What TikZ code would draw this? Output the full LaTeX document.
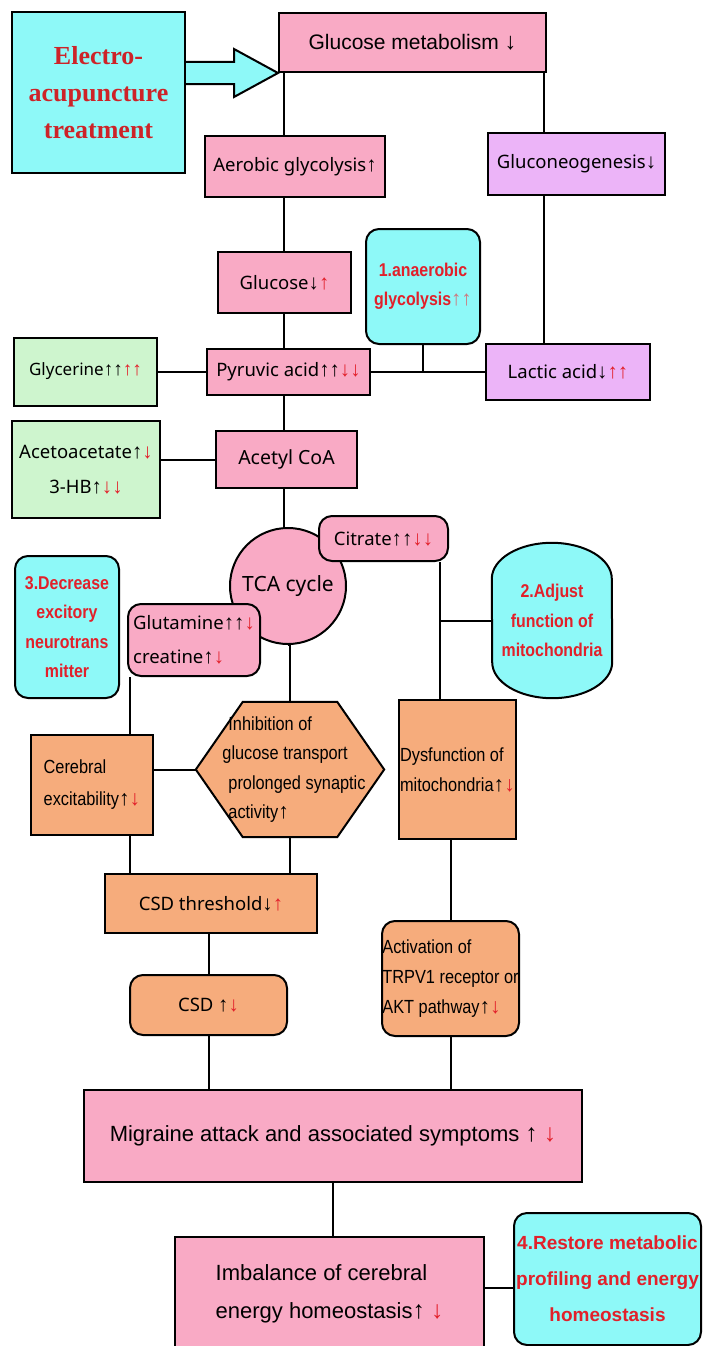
\documentclass[tikz,border=0pt]{standalone}
\usepackage{fontspec}
\setmainfont{Liberation Sans}
\newfontfamily\yhfont{Noto Sans}
\newfontfamily\narrowfont[FakeStretch=0.86]{Liberation Sans}
\newfontfamily\seriffont{Liberation Serif}
\newfontfamily\arrowfont[Scale=1.12]{Liberation Sans}
\usepackage{tikz}
\usetikzlibrary{calc,backgrounds}
\definecolor{boxcyan}{RGB}{142,249,248}
\definecolor{boxpink}{RGB}{249,170,197}
\definecolor{boxviolet}{RGB}{236,180,248}
\definecolor{boxgreen}{RGB}{206,245,206}
\definecolor{boxorange}{RGB}{246,172,124}
\definecolor{txtred}{RGB}{226,32,42}
\definecolor{elecred}{RGB}{205,35,40}
\definecolor{fadered}{RGB}{205,120,125}

% small arrows used in the labels
\newcommand{\ua}{{\arrowfont ↑}}
\newcommand{\da}{{\arrowfont ↓}}
\newcommand{\rua}{{\color{txtred}\arrowfont ↑}}
\newcommand{\rda}{{\color{txtred}\arrowfont ↓}}
\newcommand{\fua}{{\color{fadered}\arrowfont ↑}}

\begin{document}
\begin{tikzpicture}[x=1pt,y=-1pt,
    base/.style={draw=black, line width=2pt, inner sep=0pt, text=black},
    pinkbox/.style={base, fill=boxpink},
    violetbox/.style={base, fill=boxviolet},
    greenbox/.style={base, fill=boxgreen},
    orangebox/.style={base, fill=boxorange},
    cyanbox/.style={base, fill=boxcyan, rounded corners=13pt},
    roundbox/.style={rounded corners=13pt},
    link/.style={line width=2pt},
    yh/.style={font=\yhfont\fontsize{18.5}{24}\selectfont},
    nar/.style={font=\narrowfont\fontsize{19}{30}\selectfont},
    boldred/.style={font=\narrowfont\bfseries\fontsize{18.5}{29.5}\selectfont, text=txtred},
    big/.style={font=\fontsize{22}{38}\selectfont},
    sz/.style 2 args={minimum width=#1pt, minimum height=#2pt}]
    \useasboundingbox (0,0) rectangle (702,1346);

    % treatment and glucose metabolism
    \node[base, fill=boxcyan, sz={173}{161}, font=\seriffont\bfseries\fontsize{26}{37}\selectfont, text=elecred, align=center] (elec) at (98.5,92.5) {Electro-\\acupuncture\\treatment};
    \node[pinkbox, sz={267}{59}, font=\fontsize{21}{26}\selectfont] (gm) at (412.5,42.5) {Glucose metabolism \da};
    \node[pinkbox, sz={180}{61}, yh] (aer) at (295,166.5) {Aerobic glycolysis\ua};
    \node[violetbox, sz={177}{62}, yh] (gng) at (576.5,164) {Gluconeogenesis\da};
    \node[pinkbox, sz={133}{61}, yh] (glu) at (284.5,282.5) {Glucose\da\rua};
    \node[cyanbox, sz={114}{115}, boldred, align=center] (ana) at (423,286.5) {1.anaerobic\\glycolysis\fua\fua};
    \node[greenbox, sz={143}{68}, font=\yhfont\fontsize{17}{24}\selectfont] (gly) at (85.5,371.5) {Glycerine\ua\ua\rua\rua};
    \node[pinkbox, sz={163}{46}, yh] (pyr) at (288.5,371.5) {Pyruvic acid\ua\ua\rda\rda};
    \node[violetbox, sz={164}{56}, yh] (lac) at (568,371.5) {Lactic acid\da\rua\rua};
    \node[greenbox, sz={148}{97}, font=\yhfont\fontsize{18.5}{35}\selectfont, align=center] (aco) at (86,469.5) {Acetoacetate\ua\rda\\3-HB\ua\rda\rda};
    \node[pinkbox, sz={141}{57}, font=\yhfont\fontsize{19.5}{24}\selectfont] (aca) at (286.5,459.5) {Acetyl CoA};

    % TCA cycle
    \node[pinkbox, circle, minimum size=116pt, font=\yhfont\fontsize{21}{26}\selectfont] (tca) at (288,586) {TCA cycle};
    \node[pinkbox, roundbox, sz={129}{45}, yh] (cit) at (383.5,538.5) {Citrate\ua\ua\rda\rda};
    \node[pinkbox, roundbox, sz={132}{72}, font=\yhfont\fontsize{18.5}{34}\selectfont, align=left] (glt) at (194,640) {Glutamine\ua\ua\rda\\creatine\ua\rda};
    \node[cyanbox, sz={104}{142}, boldred, align=center] (dec) at (67,627) {3.Decrease\\excitory\\neurotrans\\mitter};
    \node[inner sep=0pt, sz={120}{155}, boldred, align=center] (adj) at (552,620.5) {2.Adjust\\function of\\mitochondria};

    % CSD and mitochondria
    \node[orangebox, sz={122}{100}, font=\narrowfont\fontsize{19}{32}\selectfont, align=left] (cer) at (92,785) {Cerebral\\excitability\ua\rda};
    \node[inner sep=0pt, sz={188}{135}, font=\narrowfont\fontsize{19}{29.5}\selectfont, align=left] (hex) at (290,769.5) {\hspace*{14pt}Inhibition of\\\hspace*{8pt}glucose transport\\\hspace*{14pt}prolonged synaptic\\\hspace*{14pt}activity\ua};
    \node[orangebox, sz={117}{139}, nar, align=left] (dys) at (457.5,769.5) {Dysfunction of\\mitochondria\ua\rda};
    \node[orangebox, sz={212}{59}, yh] (csdt) at (211,903.5) {CSD threshold\da\rua};
    \node[orangebox, roundbox, sz={157}{60}, yh] (csd) at (208.5,1005) {CSD \ua\rda};
    \node[orangebox, roundbox, sz={137}{115}, nar, align=left] (act) at (450.5,978.5) {Activation of\\TRPV1 receptor or\\AKT pathway\ua\rda};

    % migraine and homeostasis
    \node[pinkbox, sz={498}{92}, big] (mig) at (333,1136) {Migraine attack and associated symptoms \ua\ \rda};
    \node[pinkbox, sz={309}{113}, big, align=left] (imb) at (329.5,1293.5) {Imbalance of cerebral\\energy homeostasis\ua\ \rda};
    \node[cyanbox, roundbox, sz={187}{132}, font=\bfseries\fontsize{19}{36}\selectfont, text=txtred, align=center] (res) at (607.5,1279) {4.Restore metabolic\\profiling and energy\\homeostasis};

    % shapes behind the hexagon and the mitochondria label
    \begin{scope}[on background layer]
        \draw[base, fill=boxorange] (hex.west) -- ([xshift=47pt]hex.north west) -- ([xshift=-47pt]hex.north east) -- (hex.east)
            -- ([xshift=-47pt]hex.south east) -- ([xshift=47pt]hex.south west) -- cycle;
        \draw[base, fill=boxcyan] ([yshift=-36pt]adj.north west) arc[start angle=180, end angle=0, x radius=60pt, y radius=36pt]
            -- ([yshift=36pt]adj.south east) arc[start angle=0, end angle=-180, x radius=60pt, y radius=36pt] -- cycle;
    \end{scope}

    % big arrow
    \coordinate (a0) at (elec.east |- gm.south west);
    \draw[base, fill=boxcyan, line join=miter] ($(a0)+(0,-11)$) -- ++(48,0) -- ++(0,-13) -- (gm.south west)
        -- ($(a0)+(48,24)$) -- ++(0,-13) -- ($(a0)+(0,11)$);

    % connecting lines
    \coordinate (spine) at (283.5,0);
    \coordinate (rcol) at (544,0);
    \coordinate (mcol) at (440,0);
    \coordinate (lcol) at (130,0);
    \draw[link] (gm.south -| spine) -- (aer.north -| spine);
    \draw[link] (aer.south -| spine) -- (glu.north -| spine);
    \draw[link] (glu.south -| spine) -- (pyr.north -| spine);
    \draw[link] (pyr.south -| spine) -- (aca.north -| spine);
    \draw[link] (aca.south -| spine) -- (tca.north -| spine);
    \draw[link] (tca.south) -- (hex.north |- tca.south) -- (hex.north);
    \draw[link] (gm.south -| rcol) -- (gng.north -| rcol);
    \draw[link] (gng.south -| rcol) -- (lac.north -| rcol);
    \draw[link] (gly.east) -- (gly.east -| pyr.west);
    \draw[link] (pyr.east) -- (pyr.east -| lac.west);
    \draw[link] (ana.south) -- (ana.south |- pyr.east);
    \draw[link] (aca.west) -- (aca.west -| aco.east);
    \draw[link] (cit.south -| mcol) -- (dys.north -| mcol);
    \draw[link] (adj.west) -- (adj.west -| mcol);
    \draw[link] (glt.south -| lcol) -- (cer.north -| lcol);
    \draw[link] (hex.west) -- (hex.west -| cer.east);
    \draw[link] (cer.south -| lcol) -- (csdt.north -| lcol);
    \draw[link] (hex.south) -- (hex.south |- csdt.north);
    \draw[link] (csd.north |- csdt.south) -- (csd.north);
    \draw[link] (csd.south) -- (csd.south |- mig.north);
    \draw[link] (act.north |- dys.south) -- (act.north);
    \draw[link] (act.south) -- (act.south |- mig.north);
    \draw[link] (mig.south) -- (mig.south |- imb.north);
    \draw[link] ([yshift=6pt]imb.east) -- ([yshift=6pt]imb.east -| res.west);
\end{tikzpicture}
\end{document}
